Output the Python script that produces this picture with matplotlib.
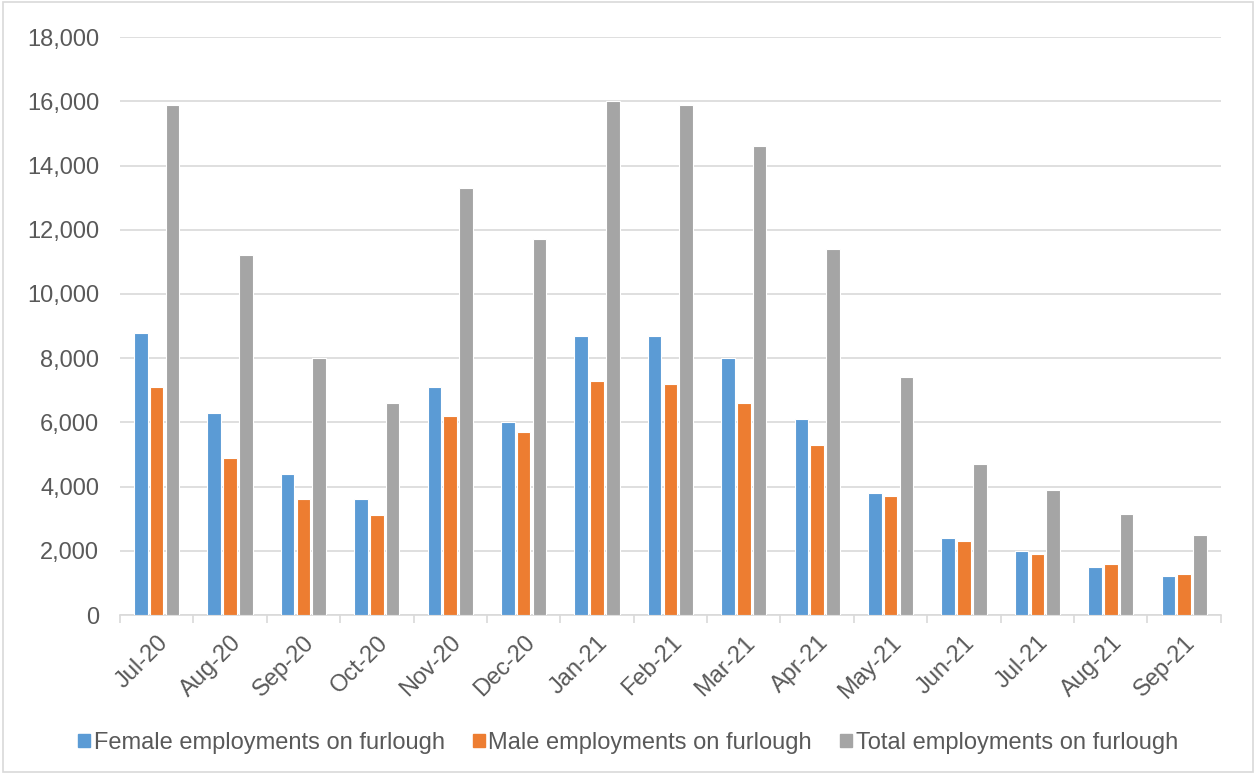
import matplotlib
matplotlib.use("Agg")
import matplotlib.pyplot as plt
import numpy as np
from matplotlib.patches import Rectangle

months = ["Jul-20", "Aug-20", "Sep-20", "Oct-20", "Nov-20", "Dec-20", "Jan-21", "Feb-21",
          "Mar-21", "Apr-21", "May-21", "Jun-21", "Jul-21", "Aug-21", "Sep-21"]
female = [8800, 6300, 4400, 3600, 7100, 6000, 8700, 8700, 8000, 6100, 3800, 2400, 2000, 1500, 1230]
male = [7100, 4900, 3600, 3100, 6200, 5700, 7300, 7200, 6600, 5300, 3700, 2300, 1900, 1600, 1270]
total = [15900, 11200, 8000, 6600, 13300, 11700, 16000, 15900, 14600, 11400, 7400, 4700, 3900, 3150, 2500]
series_names = ["Female employments on furlough", "Male employments on furlough",
                "Total employments on furlough"]
colors = ["#5B9BD5", "#ED7D31", "#A5A5A5"]

plt.rcParams['font.family'] = ['Liberation Sans', 'DejaVu Sans']
FS = 17
fig = plt.figure(figsize=(12.56, 7.74), dpi=100)
ax = fig.add_axes([0.0955, 0.2054, 0.8765, 0.7466])

x = np.arange(len(months))
w = 0.185
gap = 0.03
for i, (vals, c, name) in enumerate(zip([female, male, total], colors, series_names)):
    ax.bar(x + (i - 1) * (w + gap), vals, width=w, color=c, edgecolor="white",
           linewidth=0.8, label=name, zorder=3)

ax.set_xlim(-0.5, len(months) - 0.5)
ax.set_ylim(0, 18000)
ax.set_yticks(np.arange(0, 18001, 2000))
ax.yaxis.set_major_formatter(matplotlib.ticker.FuncFormatter(lambda v, p: f"{int(v):,}"))
ax.grid(axis="y", color="#D9D9D9", linewidth=1.2, zorder=0)
for s in ["top", "right", "left"]:
    ax.spines[s].set_visible(False)
ax.spines["bottom"].set_color("#D9D9D9")
ax.spines["bottom"].set_linewidth(1.2)
ax.tick_params(axis="y", length=0, labelsize=FS, labelcolor="#595959", pad=15)
ax.set_xticks(x)
ax.set_xticklabels(months, rotation=45, ha="right", rotation_mode="anchor")
ax.tick_params(axis="x", which="major", length=0, labelsize=FS, labelcolor="#595959", pad=12)
ax.set_xticks(np.arange(-0.5, len(months)), minor=True)
ax.tick_params(axis="x", which="minor", length=6, color="#D9D9D9", width=1.2)

handles = [Rectangle((0, 0), 1, 1, color=c) for c in colors]
leg = fig.legend(handles, series_names, loc="center", bbox_to_anchor=(0.5, 0.04), ncol=3,
                 frameon=False, fontsize=FS, handlelength=0.5, handleheight=0.5,
                 handletextpad=0.15, columnspacing=1.2, labelcolor="#595959")

fig.patches.append(Rectangle((0.002, 0.003), 0.996, 0.994, transform=fig.transFigure,
                             fill=False, edgecolor="#D9D9D9", linewidth=1.2))
fig.savefig("out.png", dpi=100)
